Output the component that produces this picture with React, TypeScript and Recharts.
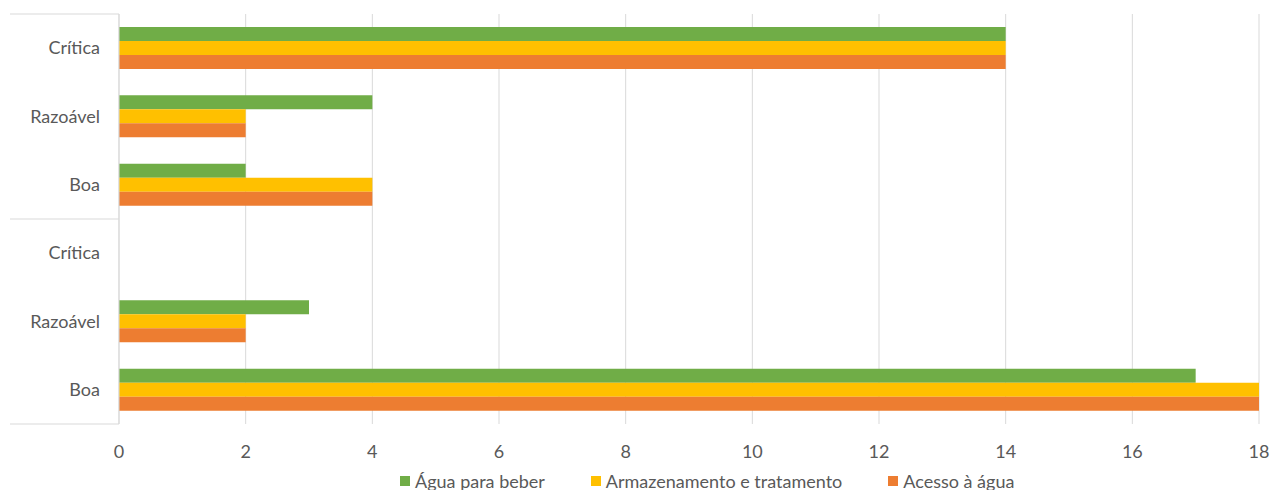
import React from 'react';
import { BarChart, Bar, XAxis, YAxis, CartesianGrid, Legend } from 'recharts';

// Categories (top to bottom), two blocks of quality levels
const categoryIds = ['a-critica', 'a-razoavel', 'a-boa', 'b-critica', 'b-razoavel', 'b-boa'];
const categoryLabels = ['Crítica', 'Razoável', 'Boa', 'Crítica', 'Razoável', 'Boa'];

// Series values, same order as the categories
const aguaParaBeber = [14, 4, 2, 0, 3, 17];
const armazenamento = [14, 2, 4, 0, 2, 18];
const acessoAgua = [14, 2, 4, 0, 2, 18];

const seriesNames = ['Água para beber', 'Armazenamento e tratamento', 'Acesso à água'];
const seriesColors = ['#70AD47', '#FFC000', '#ED7D31'];

const xTicks = [0, 2, 4, 6, 8, 10, 12, 14, 16, 18];

const data = categoryIds.map((id, i) => ({
  id,
  label: categoryLabels[i],
  agua: aguaParaBeber[i],
  armazenamento: armazenamento[i],
  acesso: acessoAgua[i],
}));

const FONT = 'Lato, "Open Sans", sans-serif';
const FONT_SIZE = 18;
const TEXT = '#595959';
const GRID = '#D9D9D9';

const WIDTH = 1270;
const HEIGHT = 490;
const MARGIN = { top: 14, right: 11, bottom: 0, left: 0 };
const Y_AXIS_WIDTH = 119;
const X_AXIS_HEIGHT = 36;
const LEGEND_HEIGHT = 30;
const PLOT_HEIGHT = HEIGHT - MARGIN.top - MARGIN.bottom - X_AXIS_HEIGHT - LEGEND_HEIGHT;
const BAND = PLOT_HEIGHT / categoryIds.length;
const GROUP_SIZE = 3;

// Category tick with the group separators of the two-level axis
const CategoryTick = (props: any) => {
  const { x, y, payload, index } = props;
  const i = typeof index === 'number' ? index : categoryIds.indexOf(payload.value);
  const label = categoryLabels[i] ?? payload.value;
  const lineLeft = 10;
  const lineRight = Y_AXIS_WIDTH;
  const lines: number[] = [];
  if (i === 0) lines.push(y - BAND / 2);
  if ((i + 1) % GROUP_SIZE === 0) lines.push(y + BAND / 2);
  return (
    <g>
      {lines.map((ly, k) => (
        <line key={k} x1={lineLeft} x2={lineRight} y1={ly} y2={ly} stroke={GRID} strokeWidth={1} />
      ))}
      <text
        x={x}
        y={y}
        dy="0.35em"
        textAnchor="end"
        fill={TEXT}
        fontSize={FONT_SIZE}
        fontFamily={FONT}
      >
        {label}
      </text>
    </g>
  );
};

const LegendContent = () => (
  <div
    style={{
      height: LEGEND_HEIGHT,
      display: 'flex',
      alignItems: 'center',
      paddingLeft: 400,
      paddingTop: 12,
      boxSizing: 'border-box',
      fontFamily: FONT,
      fontSize: FONT_SIZE,
      color: TEXT,
      whiteSpace: 'nowrap',
    }}
  >
    {seriesNames.map((name, i) => (
      <div key={name} style={{ display: 'flex', alignItems: 'center', marginRight: 46 }}>
        <span
          style={{ display: 'inline-block', width: 10, height: 10, background: seriesColors[i], marginRight: 5 }}
        />
        <span>{name}</span>
      </div>
    ))}
  </div>
);

export default function App() {
  return (
    <div style={{ position: 'absolute', left: 0, top: 0, width: WIDTH, height: HEIGHT, background: '#fff' }}>
      <BarChart
        width={WIDTH}
        height={HEIGHT}
        data={data}
        layout="vertical"
        margin={MARGIN}
        barCategoryGap="19%"
        barGap={0}
      >
        <CartesianGrid horizontal={false} stroke={GRID} />
        <XAxis
          type="number"
          domain={[0, 18]}
          ticks={xTicks}
          interval={0}
          axisLine={false}
          tickLine={false}
          tickSize={0}
          tickMargin={21}
          height={X_AXIS_HEIGHT}
          tick={{ fill: TEXT, fontSize: FONT_SIZE, fontFamily: FONT }}
        />
        <YAxis
          type="category"
          dataKey="id"
          width={Y_AXIS_WIDTH}
          axisLine={{ stroke: GRID }}
          tickLine={false}
          tickSize={0}
          tickMargin={19}
          interval={0}
          tick={<CategoryTick />}
        />
        <Legend verticalAlign="bottom" content={<LegendContent />} wrapperStyle={{ height: LEGEND_HEIGHT }} />
        <Bar dataKey="agua" name={seriesNames[0]} fill={seriesColors[0]} isAnimationActive={false} />
        <Bar dataKey="armazenamento" name={seriesNames[1]} fill={seriesColors[1]} isAnimationActive={false} />
        <Bar dataKey="acesso" name={seriesNames[2]} fill={seriesColors[2]} isAnimationActive={false} />
      </BarChart>
    </div>
  );
}
